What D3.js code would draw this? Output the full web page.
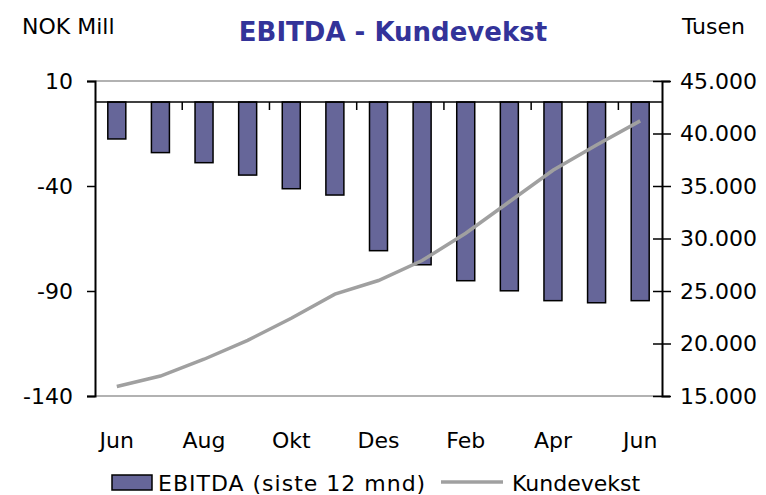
<!DOCTYPE html>
<html>
<head>
<meta charset="utf-8">
<script src="https://cdn.jsdelivr.net/npm/d3@7"></script>
<style>
  body { margin: 0; background: #fff; }
  text { font-family: "DejaVu Sans", sans-serif; fill: #000; }
</style>
</head>
<body>
<div id="chart"></div>
<script>
// months (13, Jun to Jun), only every other one labelled
const months = ["Jun","Jul","Aug","Sep","Okt","Nov","Des","Jan","Feb","Mar","Apr","Mai","Jun2"]
const monthLabels = {"Jun":"Jun","Aug":"Aug","Okt":"Okt","Des":"Des","Feb":"Feb","Apr":"Apr","Jun2":"Jun"}

// EBITDA, NOK mill (left axis)
const ebitda = [-17.6, -24.1, -28.9, -34.8, -41.3, -44.3, -70.8, -77.5, -85.1, -89.9, -94.6, -95.6, -94.6]
// Kundevekst, customers (right axis)
const kunder = [15900, 16900, 18500, 20300, 22400, 24700, 26000, 27900, 30500, 33500, 36500, 38900, 41200]

const leftTicks = [10, -40, -90, -140]
const rightTicks = [15000, 20000, 25000, 30000, 35000, 40000, 45000]

const width = 766
const height = 495
const m = { left: 95, right: 662, top: 81, bottom: 396 }
const fs = 22

const svg = d3.select("#chart").append("svg")
  .attr("width", width)
  .attr("height", height)

const x = d3.scaleBand().domain(months).range([m.left, m.right]).paddingInner(0).paddingOuter(0)
const yL = d3.scaleLinear().domain([-140, 10]).range([m.bottom, m.top])
const yR = d3.scaleLinear().domain([15000, 45000]).range([m.bottom, m.top])

const fmt = d => d3.format(",")(d).replace(/,/g, ".")

// plot area top/bottom border
svg.append("line").attr("x1", m.left).attr("x2", m.right).attr("y1", m.top).attr("y2", m.top)
  .attr("stroke", "#999").attr("stroke-width", 1.5)
svg.append("line").attr("x1", m.left).attr("x2", m.right).attr("y1", m.bottom).attr("y2", m.bottom)
  .attr("stroke", "#999").attr("stroke-width", 1.5)

// bars
const bw = 18
svg.append("g").selectAll("rect")
  .data(months.map((mo, i) => ({ mo, v: ebitda[i] })))
  .join("rect")
    .attr("x", d => x(d.mo) + x.bandwidth() / 2 - bw / 2)
    .attr("y", yL(0))
    .attr("width", bw)
    .attr("height", d => yL(d.v) - yL(0))
    .attr("fill", "#666699")
    .attr("stroke", "#000")
    .attr("stroke-width", 1.5)

// zero line + small category ticks
svg.append("line").attr("x1", m.left).attr("x2", m.right).attr("y1", yL(0)).attr("y2", yL(0))
  .attr("stroke", "#000").attr("stroke-width", 1.5)
svg.append("g").selectAll("line")
  .data(months.filter((d, i) => i > 0 && i % 2 == 0))
  .join("line")
    .attr("x1", d => x(d)).attr("x2", d => x(d))
    .attr("y1", yL(0)).attr("y2", yL(0) + 8)
    .attr("stroke", "#000").attr("stroke-width", 1.5)

// line
const line = d3.line()
  .x((d, i) => x(months[i]) + x.bandwidth() / 2)
  .y(d => yR(d))
svg.append("path")
  .datum(kunder)
  .attr("d", line)
  .attr("fill", "none")
  .attr("stroke", "#a0a0a0")
  .attr("stroke-width", 3.5)

// left axis
const axL = svg.append("g")
  .attr("transform", `translate(${m.left},0)`)
  .call(d3.axisLeft(yL).tickValues(leftTicks).tickSize(8).tickPadding(14).tickFormat(d => d))
axL.select(".domain").attr("stroke", "#000").attr("stroke-width", 2)
axL.selectAll(".tick line").attr("stroke", "#000").attr("stroke-width", 1.5)
axL.selectAll("text").attr("font-size", fs).attr("font-family", null)

// right axis, ticks cross the line
const axR = svg.append("g")
  .attr("transform", `translate(${m.right},0)`)
  .call(d3.axisRight(yR).tickValues(rightTicks).tickSize(8).tickPadding(10).tickFormat(fmt))
axR.select(".domain").attr("stroke", "#000").attr("stroke-width", 2)
axR.selectAll(".tick line").attr("x1", -9).attr("x2", 9).attr("stroke", "#000").attr("stroke-width", 1.5)
axR.selectAll("text").attr("font-size", fs).attr("font-family", null)

// x labels
svg.append("g").selectAll("text")
  .data(months.filter(d => monthLabels[d]))
  .join("text")
    .attr("x", d => x(d) + x.bandwidth() / 2)
    .attr("y", 448)
    .attr("text-anchor", "middle")
    .attr("font-size", fs)
    .text(d => monthLabels[d])

// titles
svg.append("text").attr("x", 393).attr("y", 41).attr("text-anchor", "middle")
  .attr("font-size", 26).attr("font-weight", "bold").style("fill", "#333399")
  .text("EBITDA - Kundevekst")
svg.append("text").attr("x", 22).attr("y", 34).attr("font-size", fs).text("NOK Mill")
svg.append("text").attr("x", 682).attr("y", 34).attr("font-size", fs).text("Tusen")

// legend
const lg = svg.append("g")
lg.append("rect").attr("x", 112).attr("y", 475).attr("width", 40).attr("height", 15)
  .attr("fill", "#666699").attr("stroke", "#000").attr("stroke-width", 1.5)
lg.append("text").attr("x", 158).attr("y", 491).attr("font-size", fs).attr("letter-spacing", 1)
  .text("EBITDA (siste 12 mnd)")
lg.append("line").attr("x1", 441).attr("x2", 503).attr("y1", 482).attr("y2", 482)
  .attr("stroke", "#a0a0a0").attr("stroke-width", 3.5)
lg.append("text").attr("x", 512).attr("y", 491).attr("font-size", fs).text("Kundevekst")
</script>
</body>
</html>
